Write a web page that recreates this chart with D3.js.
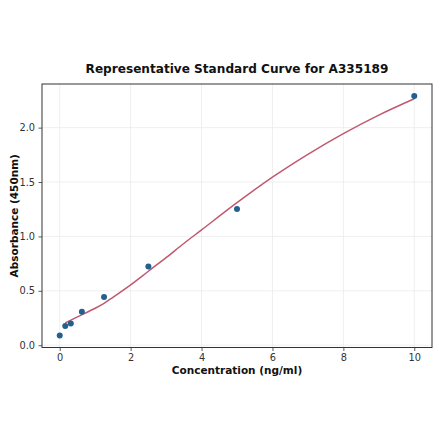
<!DOCTYPE html>
<html>
<head>
<meta charset="utf-8">
<script src="https://cdn.jsdelivr.net/npm/d3@7"></script>
<style>
  html, body { margin: 0; padding: 0; background: #fff; }
  svg { display: block; font-family: "DejaVu Sans", sans-serif; }
</style>
</head>
<body>
<script>
// Standard points (concentration ng/ml, absorbance)
const concentrations = [0, 0.156, 0.3125, 0.625, 1.25, 2.5, 5, 10];
const absorbances = [0.089, 0.177, 0.199, 0.308, 0.443, 0.723, 1.251, 2.291];

// Fitted curve
const curveX = [0.156, 0.5, 1.0, 1.25, 1.5, 2.0, 2.5, 3.0, 3.5, 4.0, 5.0, 6.0, 7.0, 8.0, 9.0, 10.0];
const curveY = [0.205, 0.26, 0.34, 0.385, 0.44, 0.555, 0.68, 0.805, 0.935, 1.06, 1.31, 1.545, 1.755, 1.945, 2.115, 2.265];

const xTicks = [0, 2, 4, 6, 8, 10];
const yTicks = [0.0, 0.5, 1.0, 1.5, 2.0];

const titleText = "Representative Standard Curve for A335189";
const xLabel = "Concentration (ng/ml)";
const yLabel = "Absorbance (450nm)";

const W = 440, H = 441;
const mLeft = 42, mRight = 432, mTop = 84, mBottom = 347.5;

const svg = d3.select("body").append("svg").attr("width", W).attr("height", H);

const x = d3.scaleLinear().domain([-0.5, 10.5]).range([mLeft, mRight]);
const y = d3.scaleLinear().domain([-0.021, 2.401]).range([mBottom, mTop]);

// grid
const grid = svg.append("g");
grid.selectAll("line.gx").data(xTicks).enter().append("line")
  .attr("x1", d => x(d)).attr("x2", d => x(d)).attr("y1", mTop).attr("y2", mBottom)
  .attr("stroke", "#ebebeb").attr("stroke-width", 0.8);
grid.selectAll("line.gy").data(yTicks).enter().append("line")
  .attr("y1", d => y(d)).attr("y2", d => y(d)).attr("x1", mLeft).attr("x2", mRight)
  .attr("stroke", "#ebebeb").attr("stroke-width", 0.8);

// axes
const xAxis = d3.axisBottom(x).tickValues(xTicks).tickFormat(d3.format("d")).tickSize(3.5).tickPadding(3.5);
const yAxis = d3.axisLeft(y).tickValues(yTicks).tickFormat(d3.format(".1f")).tickSize(3.5).tickPadding(3.5);

const gx = svg.append("g").attr("transform", `translate(0,${mBottom})`).call(xAxis);
const gy = svg.append("g").attr("transform", `translate(${mLeft},0)`).call(yAxis);
[gx, gy].forEach(g => {
  g.select(".domain").remove();
  g.selectAll(".tick line").attr("stroke", "#333").attr("stroke-width", 0.8);
  g.selectAll(".tick text").attr("fill", "#333").style("font-size", "9.8px").style("font-family", "DejaVu Sans");
});

// curve
const line = d3.line().x(d => x(d[0])).y(d => y(d[1])).curve(d3.curveCatmullRom.alpha(0.5));
svg.append("path").datum(curveX.map((v, i) => [v, curveY[i]]))
  .attr("d", line).attr("fill", "none").attr("stroke", "#c0596f").attr("stroke-width", 1.5);

// points
svg.selectAll("circle.pt").data(concentrations.map((v, i) => [v, absorbances[i]])).enter()
  .append("circle").attr("cx", d => x(d[0])).attr("cy", d => y(d[1])).attr("r", 3)
  .attr("fill", "#22608f");

// frame
svg.append("rect").attr("x", mLeft).attr("y", mTop).attr("width", mRight - mLeft).attr("height", mBottom - mTop)
  .attr("fill", "none").attr("stroke", "#333").attr("stroke-width", 1);

// title & labels
svg.append("text").attr("x", (mLeft + mRight) / 2).attr("y", 73).attr("text-anchor", "middle")
  .style("font-size", "12.1px").style("font-weight", "bold").attr("fill", "#111").text(titleText);
svg.append("text").attr("x", (mLeft + mRight) / 2).attr("y", 374).attr("text-anchor", "middle")
  .style("font-size", "10.5px").style("font-weight", "bold").attr("fill", "#111").text(xLabel);
svg.append("text").attr("transform", `translate(18,${(mTop + mBottom) / 2}) rotate(-90)`).attr("text-anchor", "middle")
  .style("font-size", "10.5px").style("font-weight", "bold").attr("fill", "#111").text(yLabel);
</script>
</body>
</html>
